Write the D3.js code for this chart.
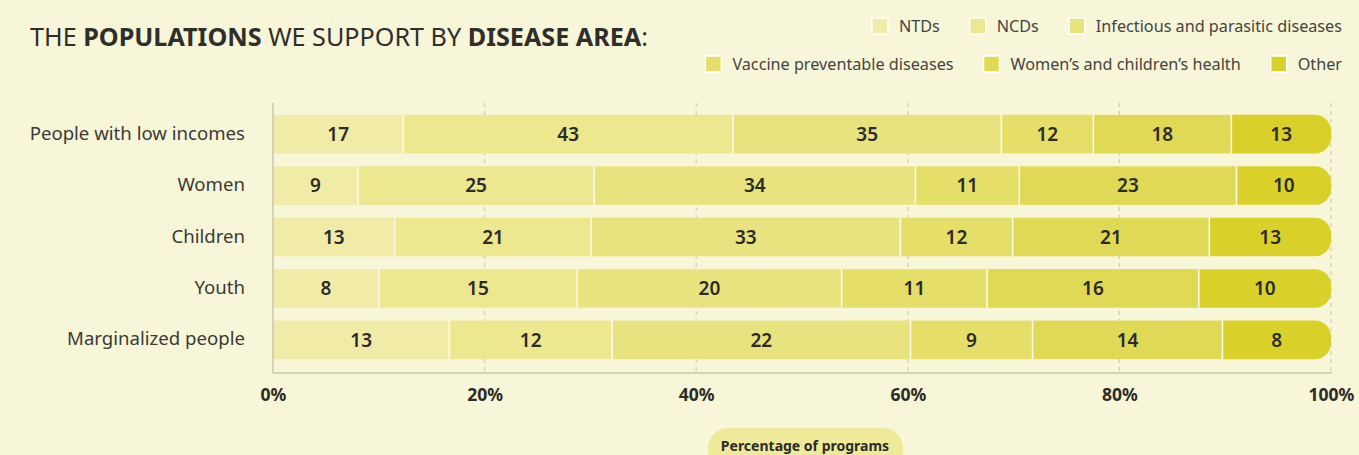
<!DOCTYPE html>
<html>
<head>
<meta charset="utf-8">
<script src="https://cdn.jsdelivr.net/npm/d3@7"></script>
<style>
  body { margin: 0; background: #f8f6d8; }
  svg { display: block; font-family: "Noto Sans", "Open Sans", sans-serif; }
</style>
</head>
<body>
<div id="chart"></div>
<script>
// data (program counts per population)
const populations = ["People with low incomes", "Women", "Children", "Youth", "Marginalized people"];
const diseaseAreas = ["NTDs", "NCDs", "Infectious and parasitic diseases",
  "Vaccine preventable diseases", "Women\u2019s and children\u2019s health", "Other"];
const ntds       = [17, 9, 13, 8, 13];
const ncds       = [43, 25, 21, 15, 12];
const infectious = [35, 34, 33, 20, 22];
const vaccine    = [12, 11, 12, 11, 9];
const womenChild = [18, 23, 21, 16, 14];
const other      = [13, 10, 13, 10, 8];
const tickValues = [0, 0.2, 0.4, 0.6, 0.8, 1];

const colors = ["#f0eca8", "#ede790", "#e8e37e", "#e5de69", "#e0d955", "#d9d02a"];

const width = 1359, height = 455;

const svg = d3.select("#chart").append("svg")
  .attr("width", width)
  .attr("height", height);

svg.append("rect").attr("width", width).attr("height", height).attr("fill", "#f8f6d8");

// build rows
const series = [ntds, ncds, infectious, vaccine, womenChild, other];
const rows = populations.map(function(p, i) {
  const row = { name: p };
  diseaseAreas.forEach(function(a, j) { row[a] = series[j][i]; });
  return row;
});

const stack = d3.stack().keys(diseaseAreas).offset(d3.stackOffsetExpand);
const stacked = stack(rows);

const x = d3.scaleLinear().domain([0, 1]).range([273, 1331]);
const y = d3.scaleBand().domain(populations).range([102, 372]).padding(0.25);

// gridlines
svg.append("g").selectAll("line")
  .data(tickValues.slice(1))
  .enter()
  .append("line")
  .attr("x1", d => x(d)).attr("x2", d => x(d))
  .attr("y1", 103).attr("y2", 373)
  .attr("stroke", "#cfcdb6")
  .attr("stroke-width", 1.2)
  .attr("stroke-dasharray", "4,4");

// bars
const radius = 16;
const layers = svg.append("g").selectAll("g")
  .data(stacked)
  .enter()
  .append("g")
  .attr("fill", (d, i) => colors[i]);

layers.each(function(layer, li) {
  const g = d3.select(this);
  const last = li === stacked.length - 1;
  layer.forEach(function(d) {
    const x0 = x(d[0]), x1 = x(d[1]);
    const top = y(d.data.name), h = y.bandwidth();
    if (last) {
      const r = Math.min(radius, h / 2);
      g.append("path").attr("d",
        "M" + x0 + "," + top +
        "H" + (x1 - r) +
        "A" + r + "," + r + " 0 0 1 " + x1 + "," + (top + r) +
        "V" + (top + h - r) +
        "A" + r + "," + r + " 0 0 1 " + (x1 - r) + "," + (top + h) +
        "H" + x0 + "Z");
    } else {
      g.append("rect")
        .attr("x", x0).attr("y", top)
        .attr("width", x1 - x0).attr("height", h);
    }
    if (li > 0) {
      svg.append("line")
        .attr("x1", x0).attr("x2", x0)
        .attr("y1", top).attr("y2", top + h)
        .attr("stroke", "#fbfae8")
        .attr("stroke-width", 1.6);
    }
  });
});

// value labels
stacked.forEach(function(layer) {
  svg.append("g").selectAll("text")
    .data(layer)
    .enter()
    .append("text")
    .attr("x", d => (x(d[0]) + x(d[1])) / 2)
    .attr("y", d => y(d.data.name) + y.bandwidth() / 2)
    .attr("dy", "0.36em")
    .attr("text-anchor", "middle")
    .attr("font-size", 19)
    .attr("font-weight", 600)
    .attr("fill", "#2b2b28")
    .text(d => d.data[layer.key]);
});

// axes lines
svg.append("line")
  .attr("x1", 273).attr("x2", 273).attr("y1", 103).attr("y2", 373)
  .attr("stroke", "#d3d1b9").attr("stroke-width", 2);
svg.append("line")
  .attr("x1", 273).attr("x2", 1332).attr("y1", 373).attr("y2", 373)
  .attr("stroke", "#d3d1b9").attr("stroke-width", 2);

// category labels
svg.append("g").selectAll("text")
  .data(populations)
  .enter()
  .append("text")
  .attr("x", 245)
  .attr("y", d => y(d) + y.bandwidth() / 2)
  .attr("dy", "0.3em")
  .attr("text-anchor", "end")
  .attr("font-size", 18.6)
  .attr("fill", "#3a3a36")
  .text(d => d);

// x tick labels
const xAxis = svg.append("g")
  .attr("transform", "translate(0,386)")
  .call(d3.axisBottom(x).tickValues(tickValues).tickFormat(d3.format(".0%")).tickSize(0));
xAxis.select(".domain").remove();
xAxis.selectAll("text")
  .attr("font-family", "\"Noto Sans\", sans-serif")
  .attr("font-size", 17.5)
  .attr("font-weight", 700)
  .attr("fill", "#2b2b28");

// axis title pill
svg.append("rect")
  .attr("x", 708).attr("y", 428).attr("width", 195).attr("height", 44)
  .attr("rx", 20).attr("fill", "#efe99a");
svg.append("text")
  .attr("x", 805).attr("y", 451)
  .attr("text-anchor", "middle")
  .attr("font-size", 14)
  .attr("font-weight", 700)
  .attr("fill", "#2b2b28")
  .text("Percentage of programs");

// title
const title = svg.append("text")
  .attr("x", 30).attr("y", 46)
  .attr("font-size", 25)
  .attr("fill", "#2e2e2a")
  .attr("textLength", 618)
  .attr("lengthAdjust", "spacingAndGlyphs");
[["THE ", 400], ["POPULATIONS", 700], [" WE SUPPORT BY ", 400], ["DISEASE AREA", 700], [":", 400]]
  .forEach(function(t) {
    title.append("tspan").attr("font-weight", t[1]).text(t[0]);
  });

// legend, two right-aligned rows
const legendRows = [diseaseAreas.slice(0, 3), diseaseAreas.slice(3)];
const legendY = [26, 64];
legendRows.forEach(function(items, r) {
  const g = svg.append("g");
  const entries = g.selectAll("g")
    .data(items)
    .enter()
    .append("g");
  entries.append("rect")
    .attr("width", 16).attr("height", 16)
    .attr("y", legendY[r] - 8)
    .attr("fill", d => colors[diseaseAreas.indexOf(d)])
    .attr("stroke", "#ffffff").attr("stroke-width", 1.5);
  entries.append("text")
    .attr("x", 27)
    .attr("y", legendY[r])
    .attr("dy", "0.35em")
    .attr("font-size", 16.2)
    .attr("fill", "#44443f")
    .text(d => d);
  // lay out from right to left
  let right = 1342;
  const nodes = entries.nodes().reverse();
  nodes.forEach(function(n) {
    const w = 27 + d3.select(n).select("text").node().getComputedTextLength();
    right -= w;
    d3.select(n).attr("transform", "translate(" + right + ",0)");
    right -= 30;
  });
});
</script>
</body>
</html>
